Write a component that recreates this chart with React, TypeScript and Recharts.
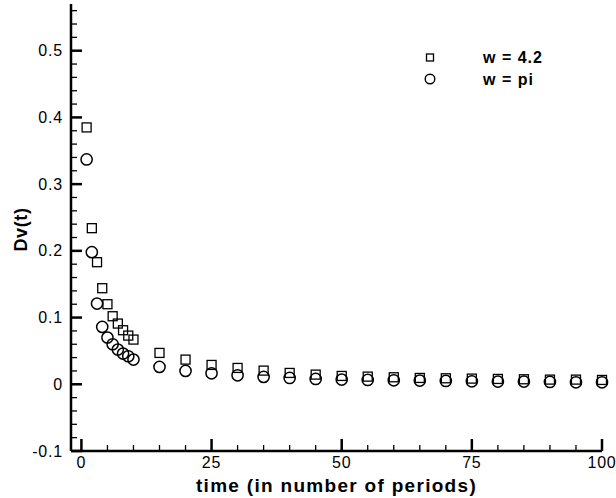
import {
  Legend,
  Scatter,
  ScatterChart,
  XAxis,
  YAxis,
} from "recharts";

const FONT = '"Liberation Sans", Arial, sans-serif';

// time in number of periods
const periods = [1, 2, 3, 4, 5, 6, 7, 8, 9, 10, 15, 20, 25, 30, 35, 40, 45, 50, 55, 60, 65, 70, 75, 80, 85, 90, 95, 100];

const dvW42 = [
  0.385, 0.234, 0.183, 0.144, 0.120, 0.102, 0.091, 0.081, 0.073, 0.067,
  0.047, 0.037, 0.029, 0.0245, 0.0205, 0.017, 0.0145, 0.0125, 0.0115, 0.0105,
  0.0095, 0.009, 0.0085, 0.008, 0.0075, 0.007, 0.007, 0.0065,
];

const dvWPi = [
  0.337, 0.198, 0.121, 0.086, 0.070, 0.060, 0.052, 0.046, 0.042, 0.037,
  0.026, 0.020, 0.0165, 0.0135, 0.011, 0.0095, 0.008, 0.007, 0.0065, 0.006,
  0.0055, 0.005, 0.0045, 0.004, 0.004, 0.0035, 0.003, 0.003,
];

const xTicks = [0, 5, 10, 15, 20, 25, 30, 35, 40, 45, 50, 55, 60, 65, 70, 75, 80, 85, 90, 95, 100];
const xMajor = [0, 25, 50, 75, 100];

const yTicks = [
  -0.1, -0.08, -0.06, -0.04, -0.02, 0, 0.02, 0.04, 0.06, 0.08,
  0.1, 0.12, 0.14, 0.16, 0.18, 0.2, 0.22, 0.24, 0.26, 0.28,
  0.3, 0.32, 0.34, 0.36, 0.38, 0.4, 0.42, 0.44, 0.46, 0.48,
  0.5, 0.52, 0.54, 0.56,
];
const yMajor = [-0.1, 0, 0.1, 0.2, 0.3, 0.4, 0.5];

const seriesW42 = periods.map((t, i) => ({ t, dv: dvW42[i] }));
const seriesWPi = periods.map((t, i) => ({ t, dv: dvWPi[i] }));

const isMajorY = (v: number) => yMajor.some((m) => Math.abs(m - v) < 1e-6);

function YTick({ x, y, payload }: any) {
  const major = isMajorY(payload.value);
  return (
    <g>
      <line
        x1={x}
        x2={x + (major ? 11 : 6)}
        y1={y}
        y2={y}
        stroke="#000"
        strokeWidth={major ? 2.5 : 1.3}
      />
      {major && (
        <text
          x={x - 8}
          y={y}
          textAnchor="end"
          dominantBaseline="central"
          fontFamily={FONT}
          fontSize={16}
          letterSpacing={0.8}
          fill="#000"
        >
          {Number(payload.value.toFixed(1)) === 0 ? "0" : payload.value.toFixed(1)}
        </text>
      )}
    </g>
  );
}

function XTick({ x, y, payload }: any) {
  const major = xMajor.includes(payload.value);
  return (
    <g>
      <line
        x1={x}
        x2={x}
        y1={y}
        y2={y - (major ? 12 : 6)}
        stroke="#000"
        strokeWidth={major ? 2.5 : 1.3}
      />
      {major && (
        <text
          x={x}
          y={y + 17}
          textAnchor="middle"
          fontFamily={FONT}
          fontSize={16}
          letterSpacing={0.8}
          fill="#000"
        >
          {payload.value}
        </text>
      )}
    </g>
  );
}

function SquareMark({ cx, cy }: any) {
  return (
    <rect
      x={cx - 4.5}
      y={cy - 4.5}
      width={9}
      height={9}
      fill="none"
      stroke="#000"
      strokeWidth={1.3}
    />
  );
}

function CircleMark({ cx, cy }: any) {
  return <circle cx={cx} cy={cy} r={5.6} fill="none" stroke="#000" strokeWidth={1.5} />;
}

function LegendBox() {
  const text = {
    fontFamily: FONT,
    fontSize: 16,
    fontWeight: "bold" as const,
    letterSpacing: 1,
  };
  return (
    <svg width={140} height={40}>
      <rect x={6.5} y={6} width={7} height={7} fill="none" stroke="#000" strokeWidth={1.3} />
      <circle cx={10} cy={31} r={4.8} fill="none" stroke="#000" strokeWidth={1.4} />
      <text x={63} y={9.5} dominantBaseline="central" {...text}>
        w = 4.2
      </text>
      <text x={63} y={31} dominantBaseline="central" {...text}>
        w = pi
      </text>
    </svg>
  );
}

export default function App() {
  return (
    <div style={{ position: "absolute", left: 0, top: 0, background: "#fff" }}>
      <ScatterChart
        width={616}
        height={498}
        margin={{ top: 4, right: 14, bottom: 0, left: 0 }}
      >
        <XAxis
          type="number"
          dataKey="t"
          domain={[-2, 100]}
          ticks={xTicks}
          interval={0}
          tickSize={0}
          tickMargin={0}
          tickLine={false}
          tick={<XTick />}
          height={47}
          axisLine={{ stroke: "#000", strokeWidth: 2.5 }}
          label={{
            value: "time (in number of periods)",
            position: "insideBottom",
            offset: 6,
            fill: "#000",
            fontFamily: FONT,
            fontSize: 19,
            fontWeight: "bold",
            letterSpacing: 1.3,
          }}
        />
        <YAxis
          type="number"
          dataKey="dv"
          domain={[-0.1, 0.57]}
          ticks={yTicks}
          interval={0}
          tickSize={0}
          tickMargin={0}
          tickLine={false}
          tick={<YTick />}
          width={71}
          axisLine={{ stroke: "#000", strokeWidth: 2.5 }}
          label={{
            value: "Dv(t)",
            angle: -90,
            position: "center",
            dx: -15,
            dy: 2,
            fill: "#000",
            fontFamily: FONT,
            fontSize: 18,
            fontWeight: "bold",
            letterSpacing: 0.6,
          }}
        />
        <Legend
          layout="vertical"
          align="center"
          verticalAlign="middle"
          content={() => <LegendBox />}
          wrapperStyle={{ position: "absolute", left: 420, top: 48, width: 140, height: 40 }}
        />
        <Scatter
          name="w = 4.2"
          data={seriesW42}
          shape={<SquareMark />}
          isAnimationActive={false}
        />
        <Scatter
          name="w = pi"
          data={seriesWPi}
          shape={<CircleMark />}
          isAnimationActive={false}
        />
      </ScatterChart>
    </div>
  );
}
